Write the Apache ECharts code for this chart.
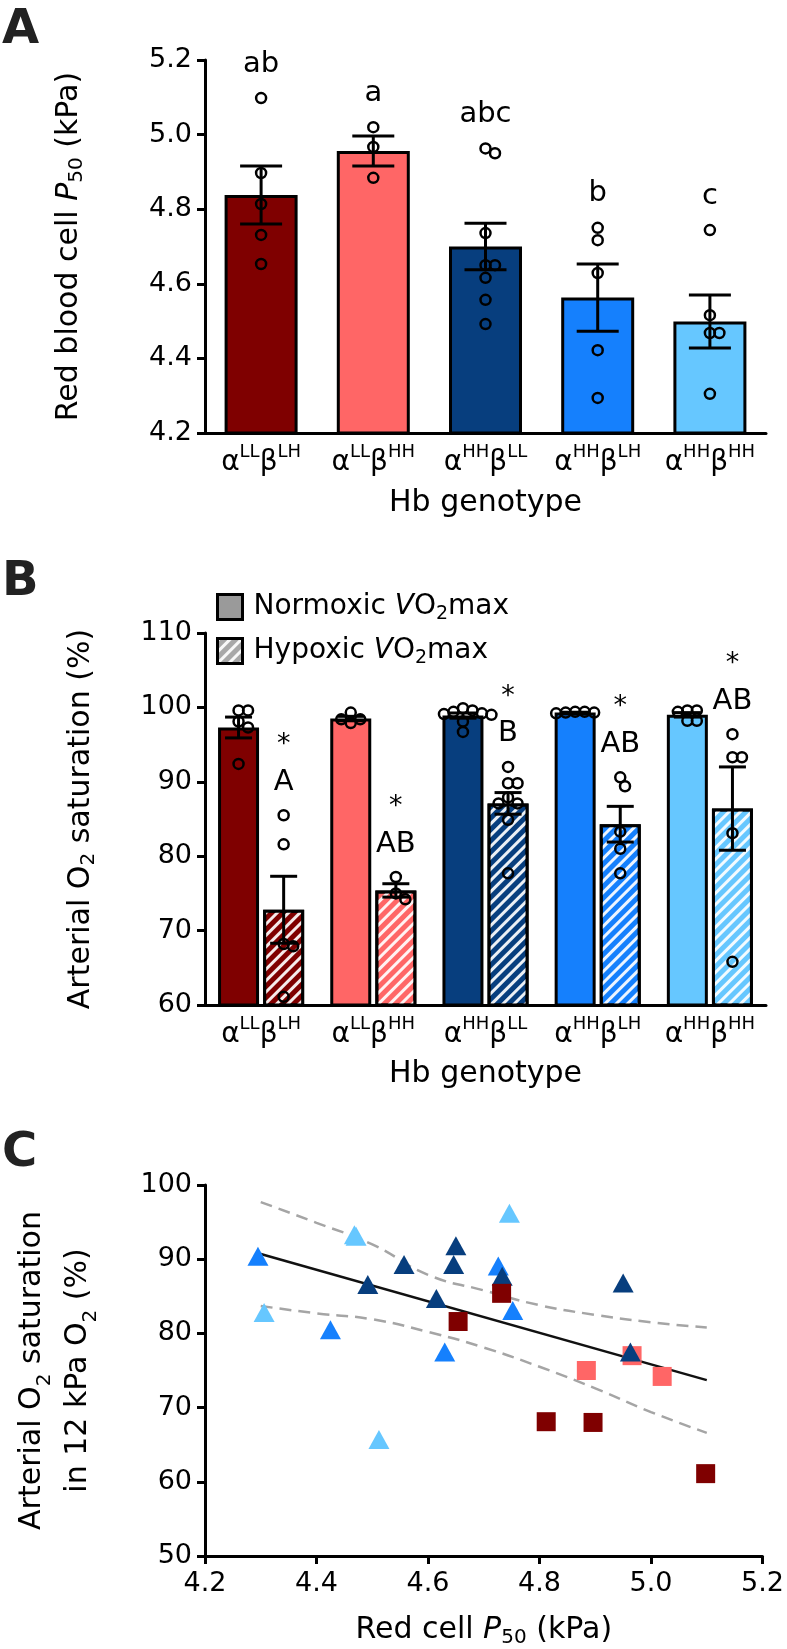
<!DOCTYPE html>
<html><head><meta charset="utf-8">
<script src="https://cdn.jsdelivr.net/npm/echarts@6/dist/echarts.min.js"></script>
<style>html,body{margin:0;padding:0;background:#fff}#c{width:787px;height:1649px}</style>
</head><body><div id="c"></div>
<script>
// ---------- data ----------
const catSup = [['LL','LH'],['LL','HH'],['HH','LL'],['HH','LH'],['HH','HH']];
const categories = catSup.map(([a,b]) => 'α' + a + 'β' + b);
const colors = ['#7f0000', '#ff6666', '#073e7e', '#1580fd', '#66c7ff'];

// Panel A: red blood cell P50 (kPa)
const p50Mean = [4.838, 4.956, 4.700, 4.563, 4.499];
const p50Sem  = [0.078, 0.040, 0.062, 0.090, 0.071];
const p50Ind = [
  [5.098, 4.897, 4.814, 4.731, 4.653],
  [5.020, 4.967, 4.884],
  [4.963, 4.950, 4.736, 4.650, 4.650, 4.616, 4.557, 4.492],
  [4.750, 4.717, 4.629, 4.422, 4.294],
  [4.744, 4.516, 4.468, 4.468, 4.305]
];
const p50Letters = ['ab', 'a', 'abc', 'b', 'c'];

// Panel B: arterial O2 saturation (%)
const satNormMean = [97.3, 98.5, 98.9, 99.3, 99.0];
const satNormSem  = [1.4, 0.3, 0.35, 0.05, 0.3];
const satHypMean  = [72.8, 75.4, 87.1, 84.3, 86.4];
const satHypSem   = [4.5, 0.9, 1.45, 2.4, 5.6];
const satNormInd = [
  [99.6, 99.6, 98.1, 97.3, 92.4],
  [99.3, 98.4, 98.4, 97.9],
  [99.9, 99.6, 99.4, 99.2, 99.1, 99.0, 98.1, 96.7],
  [99.4, 99.4, 99.3, 99.3, 99.2],
  [99.6, 99.6, 99.4, 98.2, 98.2]
];
const satHypInd = [
  [85.5, 81.6, 68.2, 67.9, 61.1],
  [77.2, 75.0, 74.2],
  [92.0, 89.8, 89.8, 87.9, 87.1, 87.1, 84.9, 77.7],
  [90.6, 89.4, 83.3, 81.0, 77.7],
  [96.4, 93.3, 93.3, 83.1, 65.8]
];
const satLetters = ['A', 'AB', 'B', 'AB', 'AB'];
const satStars = ['*', '*', '*', '*', '*'];

// Panel C: P50 vs saturation in 12 kPa O2
const scLLLH = [[4.732,85.4],[4.654,81.6],[4.812,68.1],[4.896,68.0],[5.098,61.1]];
const scLLHH = [[4.966,77.0],[4.884,75.0],[5.020,74.2]];
const scHHLL = [[4.950,86.8],[4.963,77.5],[4.733,87.7],[4.650,91.8],[4.646,89.3],[4.615,84.7],[4.557,89.3],[4.492,86.6]];
const scHHLH = [[4.295,90.4],[4.425,80.5],[4.630,77.5],[4.726,89.1],[4.752,83.1]];
const scHHHH = [[4.746,96.2],[4.512,65.7],[4.471,93.1],[4.468,93.3],[4.306,82.8]];
const regLine = [[4.30, 90.7], [5.10, 73.7]];
const ciUpper = [[4.3,97.7],[4.4,94.9],[4.5,92.0],[4.6,87.9],[4.7,85.8],[4.8,83.8],[4.9,82.5],[5.0,81.5],[5.1,80.8]];
const ciLower = [[4.3,83.7],[4.4,82.7],[4.5,81.9],[4.6,80.2],[4.7,78.1],[4.8,75.5],[4.9,72.6],[5.0,69.4],[5.1,66.6]];

// ---------- styling ----------
const FONT = 'DejaVu Sans';
const FS = 27;
const NFS = 30;
const BLACK = '#000';
const chart = echarts.init(document.getElementById('c'), null, {renderer: 'canvas', width: 787, height: 1649});

const catRich = {
  m: {fontSize: 28, lineHeight: 40, fontFamily: FONT, color: BLACK},
  s: {fontSize: 18, lineHeight: 18, verticalAlign: 'top', fontFamily: FONT, color: BLACK}
};
const nameRich = {
  i: {fontSize: NFS, fontStyle: 'italic', fontFamily: FONT, color: BLACK, lineHeight: 36},
  s: {fontSize: 20, lineHeight: 20, verticalAlign: 'bottom', fontFamily: FONT, color: BLACK}
};
const nameRich2 = {
  i: {fontSize: NFS, fontStyle: 'italic', fontFamily: FONT, color: BLACK, lineHeight: 46},
  s: {fontSize: 20, lineHeight: 30, verticalAlign: 'bottom', fontFamily: FONT, color: BLACK}
};
const legRich = {
  i: {fontSize: 28, fontStyle: 'italic', fontFamily: FONT, color: BLACK, lineHeight: 34},
  s: {fontSize: 19, lineHeight: 19, verticalAlign: 'bottom', fontFamily: FONT, color: BLACK}
};
const catFmt = (v, i) => `{m|α}{s|${catSup[i][0]}}{m|β}{s|${catSup[i][1]}}`;
const axisLine = {show: true, lineStyle: {color: BLACK, width: 3}};
const axisTick = {show: true, length: 8, lineStyle: {color: BLACK, width: 3}};
const tickLabel = {fontSize: FS, color: BLACK, fontFamily: FONT};

const hatch = {
  symbol: 'rect', symbolSize: 1, dashArrayX: [1, 0], dashArrayY: [3, 5],
  rotation: -Math.PI / 4, color: 'rgba(255,255,255,0.92)'
};
const barWB = 41, gapB = 0.1;
const offB = barWB * (1 + gapB) / 2;

function errSeries(xi, yi, means, sems, off, capW) {
  return {
    type: 'custom', xAxisIndex: xi, yAxisIndex: yi, z: 6, silent: true,
    data: means.map((m, i) => [i, m, sems[i]]),
    renderItem(params, api) {
      const i = api.value(0), m = api.value(1), s = api.value(2);
      const t = api.coord([i, m + s]), b = api.coord([i, m - s]);
      const x = t[0] + off;
      const st = {stroke: BLACK, lineWidth: 3};
      return {type: 'group', children: [
        {type: 'line', shape: {x1: x, y1: t[1], x2: x, y2: b[1]}, style: st},
        {type: 'line', shape: {x1: x - capW / 2, y1: t[1], x2: x + capW / 2, y2: t[1]}, style: st},
        {type: 'line', shape: {x1: x - capW / 2, y1: b[1], x2: x + capW / 2, y2: b[1]}, style: st}
      ]};
    }
  };
}

function pointSeries(xi, yi, ind, off, jit) {
  const data = [];
  ind.forEach((arr, i) => arr.forEach((v, j) => {
    data.push({value: [i, v], symbolOffset: [off + (jit ? jit[i][j] : 0), 0]});
  }));
  return {
    type: 'scatter', xAxisIndex: xi, yAxisIndex: yi, z: 7, silent: true,
    symbol: 'circle', symbolSize: 10,
    itemStyle: {color: 'rgba(0,0,0,0)', borderColor: BLACK, borderWidth: 2.5, opacity: 1},
    data
  };
}

function annSeries(xi, yi, ind, texts, off, dy, fs) {
  return {
    type: 'scatter', xAxisIndex: xi, yAxisIndex: yi, z: 8, silent: true,
    symbolSize: 1, itemStyle: {color: 'rgba(0,0,0,0)', opacity: 1},
    data: ind.map((arr, i) => ({value: [i, Math.max(...arr)], name: texts[i]})),
    label: {show: true, position: 'inside', offset: [off, dy], formatter: p => p.name,
      fontSize: fs, color: BLACK, opacity: 1, textBorderWidth: 0, fontFamily: FONT}
  };
}

function swarm(pxYs, step) {
  const placed = [], res = [];
  pxYs.forEach(y => {
    let chosen = 0;
    for (let k = 0; k < 40; k++) {
      const c = k === 0 ? 0 : (k % 2 ? 1 : -1) * Math.ceil(k / 2) * step / 2;
      if (placed.every(p => Math.hypot(p[0] - c, p[1] - y) >= step)) { chosen = c; break; }
    }
    placed.push([chosen, y]); res.push(chosen);
  });
  return res;
}

function scatterC(data, symbol, size, color) {
  return {type: 'scatter', xAxisIndex: 2, yAxisIndex: 2, data, symbol, symbolSize: size, silent: true,
    itemStyle: {color, opacity: 1}, z: 3};
}

function build(jA, jBn, jBh) {
  return {
    animation: false,
    textStyle: {fontFamily: FONT},
    graphic: [
      {type: 'text', left: 2, top: 7, style: {text: 'A', font: 'bold 48px "DejaVu Sans"', fill: '#222'}},
      {type: 'text', left: 2, top: 559, style: {text: 'B', font: 'bold 48px "DejaVu Sans"', fill: '#222'}},
      {type: 'text', left: 2, top: 1130, style: {text: 'C', font: 'bold 48px "DejaVu Sans"', fill: '#222'}}
    ],
    legend: {
      left: 216, top: 590, padding: 0, orient: 'vertical', itemWidth: 25, itemHeight: 25, itemGap: 10,
      selectedMode: false,
      data: [
        {name: 'Normoxic', icon: 'rect', itemStyle: {color: '#9a9a9a', borderColor: BLACK, borderWidth: 3}},
        {name: 'Hypoxic', icon: 'rect', itemStyle: {color: '#a8a8a8', borderColor: BLACK, borderWidth: 3, decal: hatch}}
      ],
      formatter: n => n + ' {i|V}O{s|2}max',
      textStyle: {fontSize: 28, color: BLACK, fontFamily: FONT, lineHeight: 34, padding: [0, 0, 0, 6], rich: legRich}
    },
    grid: [
      {left: 205, right: 21, top: 60, height: 373},
      {left: 205, right: 21, top: 633, height: 372},
      {left: 205, right: 21, top: 1185, height: 374}
    ],
    xAxis: [
      {type: 'category', gridIndex: 0, data: categories, axisLine, axisTick: {show: false},
       axisLabel: {interval: 0, margin: 10, formatter: catFmt, rich: catRich},
       name: 'Hb genotype', nameLocation: 'middle', nameGap: 55,
       nameTextStyle: {fontSize: NFS, color: BLACK, fontFamily: FONT}},
      {type: 'category', gridIndex: 1, data: categories, axisLine, axisTick: {show: false},
       axisLabel: {interval: 0, margin: 10, formatter: catFmt, rich: catRich},
       name: 'Hb genotype', nameLocation: 'middle', nameGap: 54,
       nameTextStyle: {fontSize: NFS, color: BLACK, fontFamily: FONT}},
      {type: 'value', gridIndex: 2, min: 4.2, max: 5.2, interval: 0.2, axisLine, axisTick,
       splitLine: {show: false},
       axisLabel: Object.assign({margin: 14, formatter: v => v.toFixed(1)}, tickLabel),
       name: 'Red cell {i|P}{s|50} (kPa)', nameLocation: 'middle', nameGap: 56,
       nameTextStyle: {fontSize: NFS, color: BLACK, fontFamily: FONT, lineHeight: 36, rich: nameRich}}
    ],
    yAxis: [
      {type: 'value', gridIndex: 0, min: 4.2, max: 5.2, interval: 0.2, axisLine, axisTick,
       splitLine: {show: false},
       axisLabel: Object.assign({margin: 13, formatter: v => v.toFixed(1)}, tickLabel),
       name: 'Red blood cell {i|P}{s|50} (kPa)', nameLocation: 'middle', nameRotate: 90, nameGap: 118,
       nameTextStyle: {fontSize: NFS, color: BLACK, fontFamily: FONT, lineHeight: 36, rich: nameRich}},
      {type: 'value', gridIndex: 1, min: 60, max: 110, interval: 10, axisLine, axisTick,
       splitLine: {show: false},
       axisLabel: Object.assign({margin: 13}, tickLabel),
       name: 'Arterial O{s|2} saturation (%)', nameLocation: 'middle', nameRotate: 90, nameGap: 106,
       nameTextStyle: {fontSize: NFS, color: BLACK, fontFamily: FONT, lineHeight: 36, rich: nameRich}},
      {type: 'value', gridIndex: 2, min: 50, max: 100, interval: 10, axisLine, axisTick,
       splitLine: {show: false},
       axisLabel: Object.assign({margin: 13}, tickLabel),
       name: 'Arterial O{s|2} saturation\nin 12 kPa O{s|2} (%)', nameLocation: 'middle', nameRotate: 90, nameGap: 104,
       nameTextStyle: {fontSize: NFS, color: BLACK, fontFamily: FONT, lineHeight: 46, rich: nameRich2}}
    ],
    series: [
      // Panel A
      {type: 'bar', xAxisIndex: 0, yAxisIndex: 0, barWidth: 73, silent: true,
       itemStyle: {borderColor: BLACK, borderWidth: 3},
       data: p50Mean.map((v, i) => ({value: v, itemStyle: {color: colors[i]}}))},
      errSeries(0, 0, p50Mean, p50Sem, 0, 42),
      pointSeries(0, 0, p50Ind, 0, jA),
      annSeries(0, 0, p50Ind, p50Letters, 0, -34, 29),
      // Panel B
      {type: 'bar', name: 'Normoxic', xAxisIndex: 1, yAxisIndex: 1, barWidth: barWB, barGap: (gapB * 100) + '%', silent: true,
       itemStyle: {borderColor: BLACK, borderWidth: 3},
       data: satNormMean.map((v, i) => ({value: v, itemStyle: {color: colors[i]}}))},
      {type: 'bar', name: 'Hypoxic', xAxisIndex: 1, yAxisIndex: 1, barWidth: barWB, silent: true,
       itemStyle: {borderColor: BLACK, borderWidth: 3},
       data: satHypMean.map((v, i) => ({value: v, itemStyle: {color: colors[i], decal: hatch}}))},
      errSeries(1, 1, satNormMean, satNormSem, -offB, 27),
      errSeries(1, 1, satHypMean, satHypSem, offB, 27),
      pointSeries(1, 1, satNormInd, -offB, jBn),
      pointSeries(1, 1, satHypInd, offB, jBh),
      annSeries(1, 1, satHypInd, satLetters, offB, -33, 29),
      annSeries(1, 1, satHypInd, satStars, offB, -70, 27),
      // Panel C
      {type: 'line', xAxisIndex: 2, yAxisIndex: 2, data: ciUpper, smooth: true, symbol: 'none', silent: true,
       lineStyle: {color: '#a5a5a5', width: 2.5, type: [12, 7]}},
      {type: 'line', xAxisIndex: 2, yAxisIndex: 2, data: ciLower, smooth: true, symbol: 'none', silent: true,
       lineStyle: {color: '#a5a5a5', width: 2.5, type: [12, 7]}},
      {type: 'line', xAxisIndex: 2, yAxisIndex: 2, data: regLine, symbol: 'none', silent: true,
       lineStyle: {color: '#111', width: 2.5}},
      scatterC(scHHHH, 'triangle', [21, 19], colors[4]),
      scatterC(scHHLH, 'triangle', [21, 19], colors[3]),
      scatterC(scLLHH, 'rect', 19, colors[1]),
      scatterC(scHHLL, 'triangle', [21, 19], colors[2]),
      scatterC(scLLLH, 'rect', 19, colors[0])
    ]
  };
}

chart.setOption(build(null, null, null));
const step = 9.5;
const jit = (ind, yi) => ind.map(arr => swarm(arr.map(v => chart.convertToPixel({yAxisIndex: yi}, v)), step));
chart.setOption(build(jit(p50Ind, 0), jit(satNormInd, 1), jit(satHypInd, 1)), true);
</script>
</body></html>
